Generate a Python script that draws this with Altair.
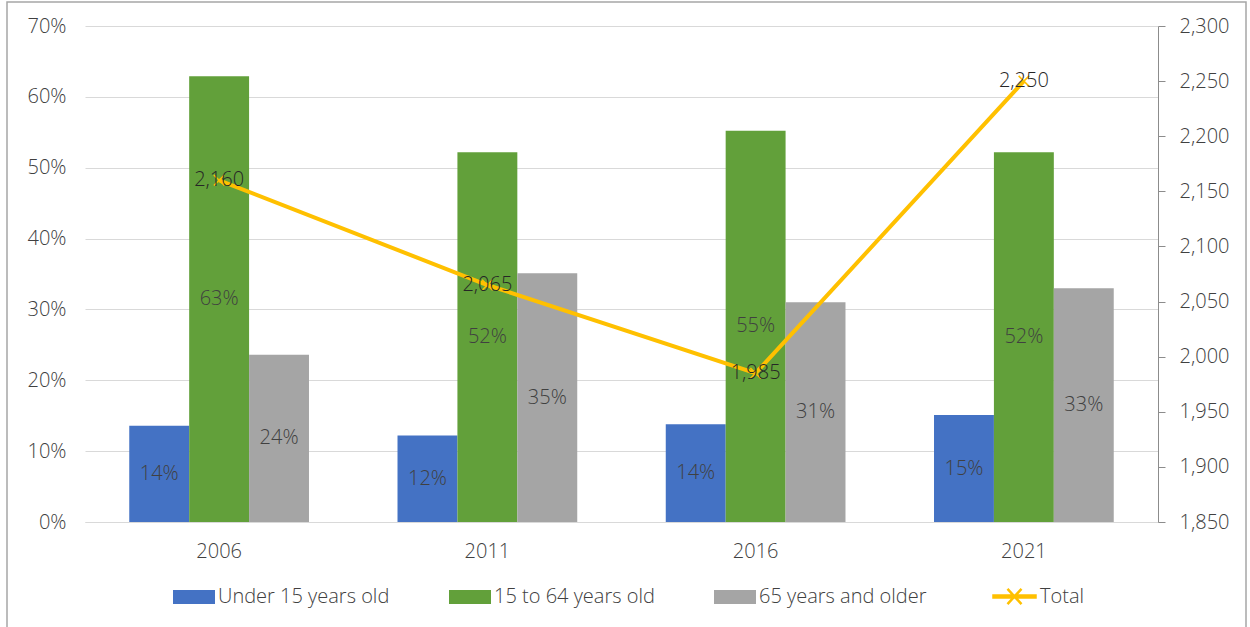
import altair as alt
import pandas as pd

# Population by age group (share of total) and total population, census years
years = ["2006", "2011", "2016", "2021"]
series = ["Under 15 years old", "15 to 64 years old", "65 years and older"]
under_15 = [0.136, 0.122, 0.138, 0.151]
age_15_64 = [0.629, 0.522, 0.552, 0.522]
age_65_plus = [0.236, 0.351, 0.310, 0.330]
totals = [2160, 2065, 1985, 2250]

pct_ticks = [0, 0.1, 0.2, 0.3, 0.4, 0.5, 0.6, 0.7]
total_ticks = [1850, 1900, 1950, 2000, 2050, 2100, 2150, 2200, 2250, 2300]

bar_colors = ["#4472C4", "#62A03A", "#A5A5A5"]
line_color = "#FFC000"
FONT = "Open Sans"
FS = 20
FW = 300
TEXT = "#404040"

rows = []
for name, vals in zip(series, [under_15, age_15_64, age_65_plus]):
    for yr, v in zip(years, vals):
        rows.append({"year": yr, "series": name, "share": v})
shares = pd.DataFrame(rows)
total_df = pd.DataFrame({"year": years, "total": totals, "label": "Total"})

x_enc = alt.X(
    "year:N",
    sort=years,
    scale=alt.Scale(paddingInner=0.33, paddingOuter=0.165),
    axis=alt.Axis(
        title=None, labelAngle=0, labelFont=FONT, labelFontSize=FS,
        labelFontWeight=FW, labelColor=TEXT, labelPadding=19, ticks=False,
        domainColor="#D9D9D9", grid=False,
    ),
)
x_off = alt.XOffset("series:N", sort=series, scale=alt.Scale(paddingInner=0))

rect_shape = "M-1.5,-0.5H1.5V0.5H-1.5Z"
total_shape = "M-1.5,-0.07H1.5V0.07H-1.5Z M-0.5,-0.55L0.5,0.55 M-0.5,0.55L0.5,-0.55"

bar_legend = alt.Legend(
    title=None, orient="none", legendX=95, legendY=557,
    direction="horizontal", columns=3, columnPadding=59,
    labelFont=FONT, labelFontSize=FS, labelFontWeight=FW, labelColor=TEXT,
    labelLimit=400, symbolType=rect_shape, symbolSize=784, labelOffset=10,
    symbolStrokeWidth=0,
)

total_legend = alt.Legend(
    title=None, orient="none", legendX=914, legendY=555,
    labelFont=FONT, labelFontSize=FS, labelFontWeight=FW, labelColor=TEXT,
    symbolType=total_shape, symbolSize=784, labelOffset=10,
    symbolStrokeWidth=2.5, symbolStrokeColor=line_color,
    symbolFillColor=line_color,
)

y_left = alt.Y(
    "share:Q",
    scale=alt.Scale(domain=[0, 0.7], nice=False),
    axis=alt.Axis(
        title=None, values=pct_ticks, format=".0%", labelFont=FONT,
        labelFontSize=FS, labelFontWeight=FW, labelColor=TEXT, ticks=False,
        tickSize=0, labelPadding=19, domain=False, grid=True,
        gridColor="#D9D9D9",
    ),
)

bars = alt.Chart(shares).mark_bar().encode(
    x=x_enc,
    xOffset=x_off,
    y=y_left,
    color=alt.Color(
        "series:N", sort=series,
        scale=alt.Scale(domain=series, range=bar_colors),
        legend=bar_legend,
    ),
)

bar_labels = alt.Chart(shares).transform_calculate(
    mid="datum.share / 2"
).mark_text(font=FONT, fontSize=FS, fontWeight=FW, color=TEXT).encode(
    x=x_enc,
    xOffset=x_off,
    y=alt.Y("mid:Q"),
    text=alt.Text("share:Q", format=".0%"),
)

left = alt.layer(bars, bar_labels)

y_right = alt.Y(
    "total:Q",
    scale=alt.Scale(domain=[1850, 2300], nice=False),
    axis=alt.Axis(
        title=None, orient="right", values=total_ticks, format=",.0f",
        labelFont=FONT, labelFontSize=FS, labelFontWeight=FW, labelColor=TEXT,
        grid=False, domainColor="#8C8C8C", tickColor="#8C8C8C", tickSize=7,
        labelPadding=14,
    ),
)

line = alt.Chart(total_df).mark_line(strokeWidth=4).encode(
    x=alt.X("year:N", sort=years),
    y=y_right,
    stroke=alt.Stroke(
        "label:N",
        scale=alt.Scale(domain=["Total"], range=[line_color]),
        legend=total_legend,
    ),
)

markers = alt.Chart(total_df).mark_point(
    shape="M-1,-1L1,1M-1,1L1,-1", size=110, filled=False,
    strokeWidth=1.5, color=line_color, opacity=1,
).encode(x=alt.X("year:N", sort=years), y=alt.Y("total:Q"))

total_labels = alt.Chart(total_df).mark_text(
    font=FONT, fontSize=FS, fontWeight=FW, color="#262626"
).encode(
    x=alt.X("year:N", sort=years),
    y=alt.Y("total:Q"),
    text=alt.Text("total:Q", format=",.0f"),
)

right = alt.layer(line, markers, total_labels)

# outer frame around the figure
frame = alt.Chart(pd.DataFrame({"k": [0]})).mark_rect(
    fill="transparent", stroke="#A6A6A6", strokeWidth=1.5
).encode(
    x=alt.value(-78), x2=alt.value(1161),
    y=alt.value(-24), y2=alt.value(700),
)

chart = alt.layer(left, right, frame).resolve_scale(y="independent").properties(
    width=1073,
    height=496,
    autosize=alt.AutoSizeParams(type="none"),
    padding={"left": 85, "top": 26, "right": 92, "bottom": 105},
    background="white",
).configure_view(stroke=None)

chart.save("out.html", embed_options={"renderer": "svg", "actions": False})
